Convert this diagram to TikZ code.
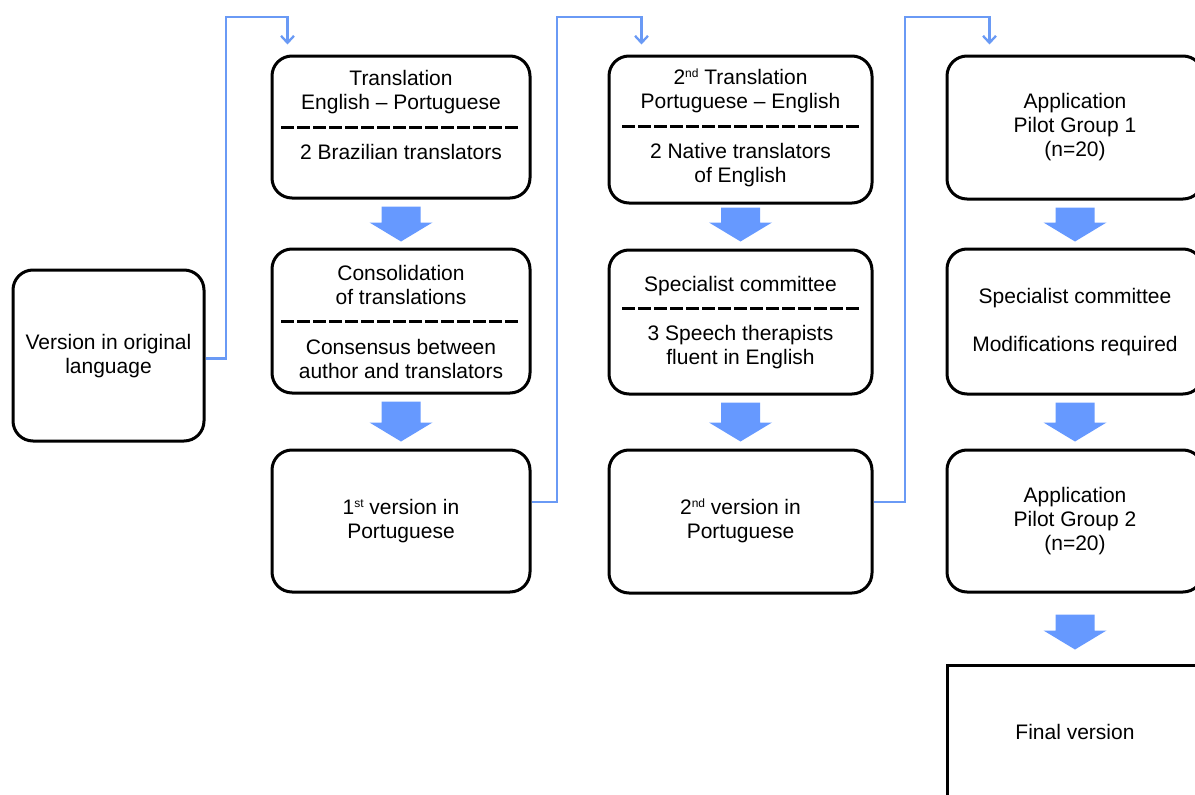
\documentclass[tikz,border=0pt]{standalone}
\usepackage{fontspec}
\setmainfont{Liberation Sans}
\usetikzlibrary{calc,arrows.meta}
\definecolor{barrowc}{HTML}{6699FF}
\definecolor{connc}{HTML}{6A9AF5}
\newcommand{\supx}[1]{\raisebox{7pt}{\fontsize{12}{12}\selectfont #1}}
\newcommand{\bigarrow}[4]{%
  \fill[barrow] ($(#1.south)+(-19.5,#3)$) -- ($(#1.south)+(19.5,#3)$)
    -- ($(#2.north)+(19.5,-#4-19)$) -- ($(#2.north)+(31.5,-#4-19)$)
    -- ($(#2.north)+(0,-#4)$) -- ($(#2.north)+(-31.5,-#4-19)$)
    -- ($(#2.north)+(-19.5,-#4-19)$) -- cycle;}
\tikzset{
  box/.style={draw=black, line width=3pt, rounded corners=20pt, inner sep=0pt},
  sqbox/.style={draw=black, line width=3pt, inner sep=0pt},
  txt/.style={anchor=base, inner sep=0pt, font=\fontsize{21}{24}\selectfont},
  sep/.style={line width=3pt, dash pattern=on 13pt off 3pt},
  barrow/.style={fill=barrowc},
  conn/.style={draw=connc, line width=2.3pt, -{Straight Barb[length=7pt,width=13pt]}},
}
\begin{document}
\begin{tikzpicture}[x=1pt,y=-1pt]
\useasboundingbox (0,0) rectangle (1195,795);
\clip (0,0) rectangle (1195,795);
\fill[white] (0,0) rectangle (1195,795);

% boxes
\node[box, minimum width=191, minimum height=171] (left) at (108.5,355.5) {};
\node[box, minimum width=258, minimum height=142] (b11) at (401,127) {};
\node[box, minimum width=258, minimum height=144] (b12) at (401,321) {};
\node[box, minimum width=258, minimum height=142] (b13) at (401,521) {};
\node[box, minimum width=263, minimum height=147] (b21) at (740.5,129.5) {};
\node[box, minimum width=263, minimum height=144] (b22) at (740.5,322) {};
\node[box, minimum width=263, minimum height=143] (b23) at (740.5,521.5) {};
\node[box, minimum width=256, minimum height=143] (b31) at (1075,127.5) {};
\node[box, minimum width=256, minimum height=145] (b32) at (1075,321.5) {};
\node[box, minimum width=256, minimum height=142] (b33) at (1075,521) {};
\node[sqbox, minimum width=256, minimum height=134] (fin) at (1075,732) {};

% texts
\node[txt] (tla) at (108.5,349) {Version in original};
\node[txt] (tlb) at (108.5,373) {language};

\node[txt] (t11a) at (401,85) {Translation};
\node[txt] (t11b) at (401,109) {English -- Portuguese};
\node[txt] (t11c) at (401,159) {2 Brazilian translators};
\node[txt] (t12a) at (401,280) {Consolidation};
\node[txt] (t12b) at (401,304) {of translations};
\node[txt] (t12c) at (401,354) {Consensus between};
\node[txt] (t12d) at (401,378) {author and translators};
\node[txt] (t13a) at (401,514) {1\supx{st} version in};
\node[txt] (t13b) at (401,538) {Portuguese};

\node[txt] (t21a) at (740.5,84) {2\supx{nd} Translation};
\node[txt] (t21b) at (740.5,108) {Portuguese -- English};
\node[txt] (t21c) at (740.5,158) {2 Native translators};
\node[txt] (t21d) at (740.5,182) {of English};
\node[txt] (t22a) at (740.5,291) {Specialist committee};
\node[txt] (t22b) at (740.5,340) {3 Speech therapists};
\node[txt] (t22c) at (740.5,364) {fluent in English};
\node[txt] (t23a) at (740.5,514) {2\supx{nd} version in};
\node[txt] (t23b) at (740.5,538) {Portuguese};

\node[txt] (t31a) at (1075,108) {Application};
\node[txt] (t31b) at (1075,132) {Pilot Group 1};
\node[txt] (t31c) at (1075,156) {(n=20)};
\node[txt] (t32a) at (1075,303) {Specialist committee};
\node[txt] (t32b) at (1075,351) {Modifications required};
\node[txt] (t33a) at (1075,502) {Application};
\node[txt] (t33b) at (1075,526) {Pilot Group 2};
\node[txt] (t33c) at (1075,550) {(n=20)};
\node[txt] (tfin) at (1075,739) {Final version};

% separators
\draw[sep] (281,127) -- (519,127);
\draw[sep] (281,321) -- (519,321);
\draw[sep] (622,126) -- (859,126);
\draw[sep] (622,308) -- (859,308);

% block arrows
\bigarrow{b11}{b12}{7}{6}
\bigarrow{b12}{b13}{7}{7}
\bigarrow{b21}{b22}{3}{7}
\bigarrow{b22}{b23}{7}{7}
\bigarrow{b31}{b32}{7}{6}
\bigarrow{b32}{b33}{7}{7}
\bigarrow{b33}{fin}{21}{14}

% connectors
\coordinate (o1) at ($(left.east)+(0,3)$);
\coordinate (r1) at (226,17);
\coordinate (in1) at ($(b11.north west)+(17,-10)$);
\draw[conn] (o1) -| (r1) -| (in1);
\coordinate (o2) at ($(b13.east)+(0,-19)$);
\coordinate (r2) at (557,17);
\coordinate (in2) at ($(b21.north west)+(34,-10)$);
\draw[conn] (o2) -| (r2) -| (in2);
\coordinate (o3) at ($(b23.east)+(0,-19.5)$);
\coordinate (r3) at (905,17);
\coordinate (in3) at ($(b31.north west)+(44,-10)$);
\draw[conn] (o3) -| (r3) -| (in3);
\end{tikzpicture}
\end{document}
